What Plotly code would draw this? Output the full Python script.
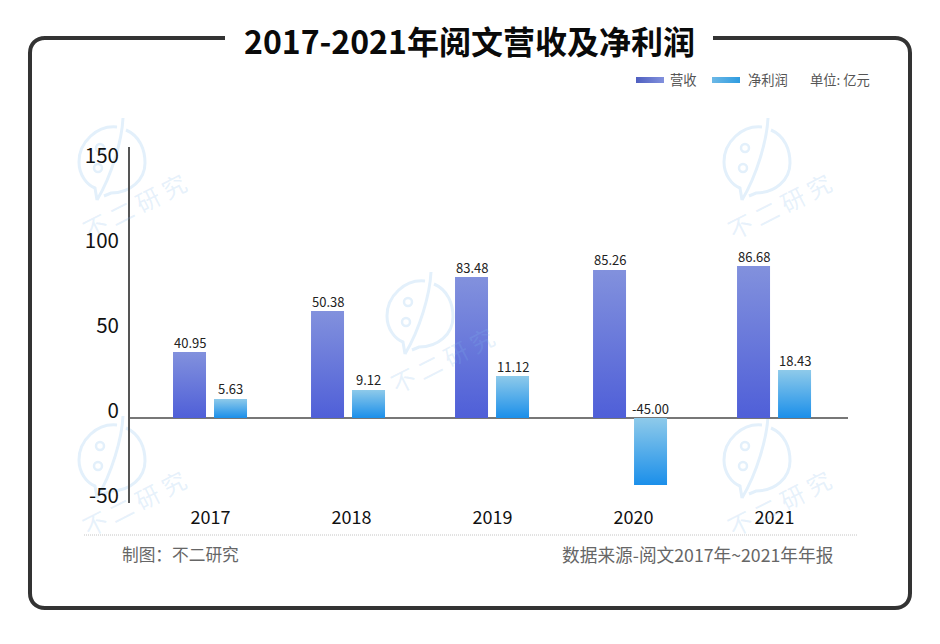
import plotly.graph_objects as go

W, H = 940, 644
FONT = "Noto Sans CJK SC"

# data
years = ["2017", "2018", "2019", "2020", "2021"]
# bar heights as drawn against the axis (the source's bars don't follow its printed numbers)
revenue_bars = [38.8, 62.9, 82.9, 87.1, 89.4]
profit_bars = [11.2, 16.5, 24.7, -39.4, 28.2]
revenue_labels = ["40.95", "50.38", "83.48", "85.26", "86.68"]
profit_labels = ["5.63", "9.12", "11.12", "-45.00", "18.43"]
y_ticks = [-50, 0, 50, 100, 150]
y_tick_labels = ["-50", "0", "50", "100", "150"]

# bar placement relative to each category, in px
CAT_STEP = 141
BAR_W = 33
revenue_left = [-37.5, -40.5, -37.5, -40.5, -37.5]
profit_left = [3.5, 0.5, 3.5, 0.5, 3.5]


def px(x, y):
    return f"{x / W:.5f},{1 - y / H:.5f}"


def line_path(cmds):
    # cmds: (letter, x, y, x, y, ...) in page pixels
    out = ""
    for c in cmds:
        pts = c[1:]
        out += c[0] + " ".join(px(pts[i], pts[i + 1]) for i in range(0, len(pts), 2)) + " "
    return out.strip()


shapes = []
annotations = []

# watermark logos
MARK = "#e3f0fb"
marks = [(112, 160), (420, 314), (757, 160), (112, 458), (757, 458)]
for cx, cy in marks:
    bubble = [
        ("M", 5, -33), ("C", -15, -35, -33, -18, -33, 2), ("C", -33, 15, -25, 25, -17, 28), ("L", -15, 40),
        ("M", 11, -42), ("C", 10, -20, 0, 15, -15, 40),
        ("M", 14, -30), ("C", 28, -24, 33, -10, 33, 3), ("C", 33, 20, 18, 33, -1, 33), ("L", -8, 36),
    ]
    moved = [(c[0], *[v + (cx if i % 2 == 0 else cy) for i, v in enumerate(c[1:])]) for c in bubble]
    shapes.append(dict(type="path", xref="paper", yref="paper", layer="below",
                       path=line_path(moved), line=dict(color=MARK, width=3)))
    for ox, oy in [(-12, -12), (-14, 8)]:
        shapes.append(dict(type="circle", xref="paper", yref="paper", layer="below",
                           x0=(cx + ox - 4) / W, x1=(cx + ox + 4) / W,
                           y0=1 - (cy + oy + 4) / H, y1=1 - (cy + oy - 4) / H,
                           line=dict(color=MARK, width=2.5)))
    annotations.append(dict(text="不 二 研 究", x=(cx + 22) / W, y=1 - (cy + 45) / H,
                            xref="paper", yref="paper", xanchor="center", yanchor="middle",
                            showarrow=False, textangle=-27,
                            font=dict(family=FONT, size=24, color="rgba(130,185,235,0.2)")))

# outer frame, open at the top for the title
frame = dict(type="path", xref="paper", yref="paper", line=dict(color="#333333", width=4))
shapes.append(dict(frame, path=line_path([
    ("M", 225, 38), ("L", 45, 38), ("C", 36, 38, 30, 44, 30, 53), ("L", 30, 593),
    ("C", 30, 602, 36, 608, 45, 608), ("L", 895, 608), ("C", 904, 608, 910, 602, 910, 593),
    ("L", 910, 53), ("C", 910, 44, 904, 38, 895, 38), ("L", 713, 38),
])))

# footer rule
shapes.append(dict(type="line", xref="paper", yref="paper", x0=84 / W, x1=857 / W,
                   y0=1 - 535 / H, y1=1 - 535 / H, line=dict(color="#c4c4c4", width=1, dash="1px,1px")))

# legend swatches
for x0, x1, col in [(636, 664, "#010101"), (712, 740, "#020202")]:
    shapes.append(dict(type="rect", xref="paper", yref="paper", x0=x0 / W, x1=x1 / W,
                       y0=1 - 83 / H, y1=1 - 77 / H, line=dict(width=0), fillcolor=col))


def page_text(text, x, y, size, color, anchor="left"):
    annotations.append(dict(text=text, x=x / W, y=1 - y / H, xref="paper", yref="paper",
                            xanchor=anchor, yanchor="middle", showarrow=False,
                            font=dict(family=FONT, size=size, color=color)))


page_text("<b>2017-2021年阅文营收及净利润</b>", 469, 40, 32, "#0a0a0a", "center")
page_text("营收", 668, 79, 13.3, "#555555")
page_text("净利润", 746, 79, 13.3, "#555555")
page_text("单位: 亿元", 808, 79, 13.3, "#555555")
page_text("制图：不二研究", 120, 554, 16.7, "#666666")
page_text("数据来源-阅文2017年~2021年年报", 836, 554, 17.7, "#666666", "right")

# value labels sit above the bar, or above the axis for the negative one
for i, year in enumerate(years):
    for vals, labels, left in [(revenue_bars, revenue_labels, revenue_left),
                               (profit_bars, profit_labels, profit_left)]:
        annotations.append(dict(text=labels[i], x=i, y=max(vals[i], 0), xref="x", yref="y",
                                xshift=left[i] + BAR_W / 2, yshift=10, yanchor="middle",
                                showarrow=False, font=dict(family=FONT, size=13, color="#222222")))

fig = go.Figure()
fig.add_trace(go.Bar(x=years, y=revenue_bars, name="营收", marker=dict(color="#6a7ad8", line_width=0),
                     width=BAR_W / CAT_STEP, offset=[v / CAT_STEP for v in revenue_left]))
fig.add_trace(go.Bar(x=years, y=profit_bars, name="净利润", marker=dict(color="#4aa8e8", line_width=0),
                     width=BAR_W / CAT_STEP, offset=[v / CAT_STEP for v in profit_left]))

fig.update_layout(
    width=W, height=H, margin=dict(l=0, r=0, t=0, b=0),
    paper_bgcolor="white", plot_bgcolor="rgba(0,0,0,0)",
    barmode="overlay", showlegend=False,
    font=dict(family=FONT),
    shapes=shapes, annotations=annotations,
    xaxis=dict(domain=[130 / W, 848 / W], type="category", range=[-0.571, 4.521], automargin=False,
               showgrid=False, showline=False, zeroline=False, ticks="",
               ticklabelstandoff=2, tickfont=dict(family=FONT, size=18, color="#111111")),
    yaxis=dict(domain=[1 - 503 / H, 1 - 147 / H], range=[-50, 159.41], automargin=False,
               tickvals=y_ticks, ticktext=y_tick_labels,
               showgrid=False, showline=True, linecolor="#555555", linewidth=2,
               zeroline=True, zerolinecolor="#777777", zerolinewidth=2, ticks="",
               ticklabelshift=-7, ticklabelstandoff=5,
               tickfont=dict(family=FONT, size=20.5, color="#111111")),
)

# bars and legend swatches get their gradients in the page
post_script = """
document.body.style.margin = '0';
document.body.style.overflow = 'hidden';
var gd = document.getElementById('{plot_id}');
function addGrad(defs, id, vertical, a, b) {
    var ns = 'http://www.w3.org/2000/svg';
    var g = document.createElementNS(ns, 'linearGradient');
    g.setAttribute('id', id);
    g.setAttribute('x1', '0'); g.setAttribute('y1', '0');
    g.setAttribute('x2', vertical ? '0' : '1'); g.setAttribute('y2', vertical ? '1' : '0');
    [[0, a], [1, b]].forEach(function (s) {
        var stop = document.createElementNS(ns, 'stop');
        stop.setAttribute('offset', s[0]);
        stop.setAttribute('stop-color', s[1]);
        g.appendChild(stop);
    });
    defs.appendChild(g);
}
function paint() {
    var svg = gd.querySelector('svg.main-svg');
    if (!document.getElementById('gradRev')) {
        var defs = svg.querySelector('defs');
        addGrad(defs, 'gradRev', true, '#8291dd', '#4f5fd8');
        addGrad(defs, 'gradNet', true, '#8ecaea', '#1b8fea');
        addGrad(defs, 'gradRevH', false, '#4f5fc0', '#8291dd');
        addGrad(defs, 'gradNetH', false, '#6cb8e6', '#2f9ce0');
    }
    var traces = gd.querySelectorAll('.barlayer .trace');
    traces.forEach(function (t, i) {
        t.querySelectorAll('.point path').forEach(function (p) {
            p.style.fill = 'url(#' + (i === 0 ? 'gradRev' : 'gradNet') + ')';
        });
    });
    gd.querySelectorAll('.shapelayer path').forEach(function (p) {
        if (p.style.fill === 'rgb(1, 1, 1)') p.style.fill = 'url(#gradRevH)';
        if (p.style.fill === 'rgb(2, 2, 2)') p.style.fill = 'url(#gradNetH)';
    });
}
gd.on('plotly_afterplot', paint);
paint();
"""

fig.write_html("out.html", post_script=post_script, config=dict(displayModeBar=False))
